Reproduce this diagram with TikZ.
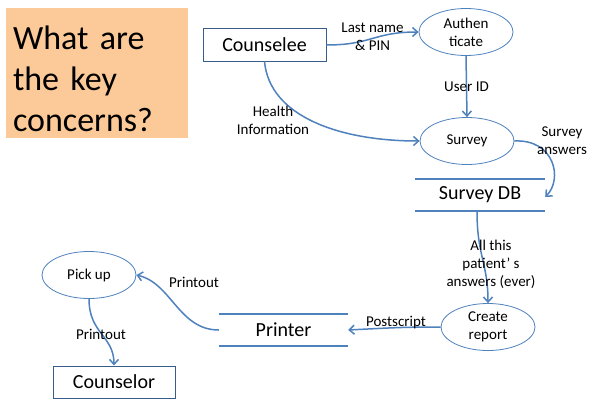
\documentclass[tikz,border=0pt]{standalone}
\usepackage{fontspec}
\setmainfont{Carlito}
\usepackage{tikz}
\usetikzlibrary{positioning}
\usetikzlibrary{shapes.geometric, arrows.meta}

\definecolor{flowblue}{RGB}{79,129,189}
\definecolor{boxblue}{RGB}{56,93,138}
\definecolor{peach}{RGB}{251,202,152}

\tikzset{
proc/.style={ellipse,draw=flowblue,line width=0.8pt,minimum width=94pt,minimum height=47pt,inner sep=0pt,align=center,font=\fontsize{15}{18}\selectfont},
ent/.style={rectangle,draw=boxblue,line width=1pt,minimum width=123pt,minimum height=32pt,inner sep=0pt,font=\fontsize{20}{24}\selectfont},
store/.style={rectangle,minimum width=130pt,minimum height=32pt,inner sep=0pt,font=\fontsize{20}{24}\selectfont},
storeline/.style={draw=flowblue,line width=1.5pt},
flow/.style={draw=flowblue,line width=1.5pt,-{Straight Barb[length=5pt,width=9pt]}},
lbl/.style={font=\fontsize{15}{18}\selectfont,align=center,inner sep=0pt}
}

\begin{document}
\begin{tikzpicture}[x=1pt,y=-1pt]
\useasboundingbox (0,0) rectangle (593,404);

\fill[peach] (6,8) rectangle (188,138);
\node[text width=168pt,align=left,font=\fontsize{34}{41}\selectfont] (title) at (97,79) {What are\\the key\\concerns?};

\node[ent] (cee) at (264.5,45) {Counselee};
\node[proc] (auth) at (466,32) {Authen\\ticate};
\node[proc] (surv) at (467,141) {Survey};
\node[store] (sdb) at (480,195) {Survey DB};
\draw[storeline] (sdb.north west) -- (sdb.north east);
\draw[storeline] (sdb.south west) -- (sdb.south east);
\node[proc] (crep) at (488,327) {Create\\report};
\node[store,minimum width=129pt] (prn) at (283.5,330) {Printer};
\draw[storeline] (prn.north west) -- (prn.north east);
\draw[storeline] (prn.south west) -- (prn.south east);
\node[proc] (pick) at (89,275) {Pick up};
\node[ent,minimum width=122pt] (cor) at (114,382) {Counselor};

\draw[flow] (cee.east) .. controls +(45,0) and +(-45,0) .. (auth.west) node[lbl,midway,yshift=2pt] {Last name\\\& PIN};
\draw[flow] (auth.south) -- (surv.north) node[lbl,midway] {User ID};
\draw[flow] (cee.south) .. controls +(5,55) and +(-80,0) .. (surv.west) node[lbl] at (273,120) {Health\\Information};
\draw[flow] (surv.east) .. controls +(40,-2) and +(18,-18) .. ([yshift=-2pt]sdb.east) node[lbl] at (562,141) {Survey\\answers};
\draw[flow] ([xshift=-3pt]sdb.south) .. controls +(0,45) and +(0,-40) .. (crep.north) node[lbl] at (491,264) {All this\\patient’ s\\answers (ever)};
\draw[flow] (crep.west) .. controls +(-40,0) and +(40,-2) .. (prn.east) node[lbl] at (396,323) {Postscript};
\draw[flow] (prn.west) .. controls +(-40,0) and +(35,8) .. (pick.east) node[lbl] at (194,282) {Printout};
\draw[flow] (pick.south) .. controls +(0,35) and +(0,-30) .. (cor.north) node[lbl] at (101,334) {Printout};

\end{tikzpicture}
\end{document}
